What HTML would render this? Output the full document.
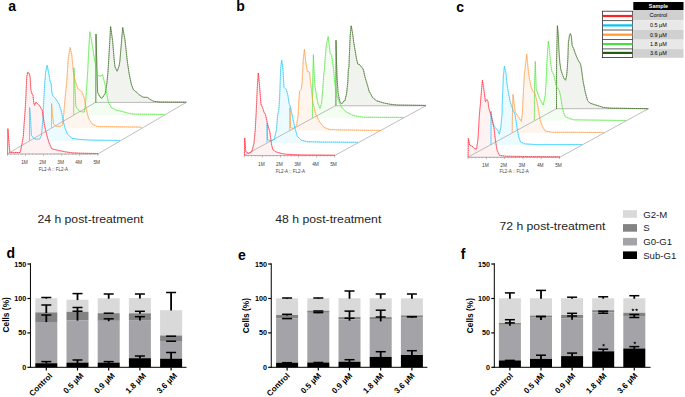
<!DOCTYPE html>
<html><head><meta charset="utf-8"><style>
html,body{margin:0;padding:0;background:#fff;}
svg{display:block;}
text{font-family:"Liberation Sans", sans-serif;}
</style></head><body>
<svg width="685" height="397" viewBox="0 0 685 397">
<path d="M95.80,102.60 L96.00,34.00 L96.80,62.00 L97.60,92.30 L100.00,97.00 L101.90,98.30 L105.20,93.40 L106.80,83.70 L107.90,72.80 L108.60,62.00 L110.60,26.50 L112.50,40.00 L114.40,62.00 L115.00,67.00 L117.10,71.20 L119.00,66.30 L119.80,62.00 L122.70,27.50 L125.00,40.00 L127.40,62.00 L129.00,72.80 L131.20,83.70 L133.30,89.60 L136.60,92.30 L139.60,95.10 L143.10,97.20 L147.40,97.40 L150.20,99.40 L153.60,101.30 L160.40,102.00 L186.30,102.20 L186.30,102.40 L95.80,102.40 Z" fill="#f1f4ee" fill-opacity="1" stroke="none"/>
<path d="M73.70,114.60 L73.90,67.80 L75.20,92.70 L75.90,106.60 L79.40,111.40 L84.20,112.10 L85.20,106.60 L86.30,92.70 L87.70,71.90 L88.70,50.00 L89.80,31.80 L91.50,40.00 L93.50,53.00 L95.40,64.00 L96.50,75.50 L97.40,75.40 L100.80,76.10 L102.50,74.50 L103.50,78.30 L105.70,87.00 L107.80,99.60 L108.50,102.50 L111.30,107.60 L117.00,110.40 L122.60,111.50 L128.30,113.20 L134.00,114.10 L164.40,114.40 L164.40,115.25 L73.70,115.25 Z" fill="#f4fdf1" fill-opacity="1" stroke="none"/>
<path d="M51.50,127.60 L51.60,103.50 L52.40,114.60 L53.60,124.00 L56.00,126.40 L59.50,126.40 L62.50,125.20 L63.70,114.60 L64.90,100.40 L66.00,89.70 L66.60,84.00 L67.00,77.80 L68.20,58.90 L70.10,47.60 L71.80,55.10 L73.30,71.50 L75.20,81.00 L77.90,88.80 L80.80,90.80 L82.60,93.30 L84.40,99.20 L86.20,108.70 L88.50,118.10 L92.10,124.00 L96.80,126.30 L100.00,126.60 L142.00,127.10 L142.00,128.10 L51.50,128.10 Z" fill="#fff5ef" fill-opacity="1" stroke="none"/>
<path d="M29.50,140.60 L29.60,107.60 L30.60,120.20 L31.40,135.30 L34.60,139.10 L39.60,139.10 L41.50,135.30 L42.80,120.20 L43.40,107.60 L44.10,95.00 L44.60,85.00 L45.60,72.70 L47.10,65.20 L48.70,72.70 L50.00,81.00 L51.20,83.80 L51.80,92.10 L53.00,96.20 L56.00,99.00 L58.90,103.90 L61.30,111.00 L63.10,120.50 L64.90,127.60 L67.30,134.00 L72.00,138.30 L79.40,139.40 L92.60,140.10 L120.00,140.40 L120.00,140.95 L29.50,140.95 Z" fill="#ebfbff" fill-opacity="1" stroke="none"/>
<path d="M7.50,153.80 L7.90,128.70 L9.80,152.40 L20.10,152.50 L22.20,143.00 L23.30,136.60 L23.90,127.00 L25.10,111.00 L25.90,97.00 L26.70,77.60 L27.50,72.30 L29.20,73.20 L30.20,77.60 L30.90,90.20 L32.10,94.00 L33.00,95.20 L33.80,102.80 L34.60,105.30 L35.90,102.20 L37.80,104.00 L39.70,105.90 L40.90,108.20 L42.20,110.10 L43.40,117.70 L44.50,125.80 L45.30,129.00 L47.20,136.60 L49.10,142.90 L51.70,148.80 L57.40,150.20 L64.60,151.70 L71.80,152.80 L80.00,153.20 L98.20,153.50 L98.20,153.80 L7.50,153.80 Z" fill="#fef2f2" fill-opacity="1" stroke="none"/>
<path d="M7.50,153.80 L95.50,102.40 L186.20,102.40 L98.20,153.80" fill="none" stroke="#8c8c8c" stroke-opacity="0.8" stroke-width="0.7"/>
<path d="M95.80,102.60 L96.00,34.00 L96.80,62.00 L97.60,92.30 L100.00,97.00 L101.90,98.30 L105.20,93.40 L106.80,83.70 L107.90,72.80 L108.60,62.00 L110.60,26.50 L112.50,40.00 L114.40,62.00 L115.00,67.00 L117.10,71.20 L119.00,66.30 L119.80,62.00 L122.70,27.50 L125.00,40.00 L127.40,62.00 L129.00,72.80 L131.20,83.70 L133.30,89.60 L136.60,92.30 L139.60,95.10 L143.10,97.20 L147.40,97.40 L150.20,99.40 L153.60,101.30 L160.40,102.00 L186.30,102.20" fill="none" stroke="#386a1e" stroke-opacity="0.45" stroke-width="0.9" stroke-linejoin="round"/>
<path d="M95.80,102.60 L96.00,34.00 L96.80,62.00 L97.60,92.30 L100.00,97.00 L101.90,98.30 L105.20,93.40 L106.80,83.70 L107.90,72.80 L108.60,62.00 L110.60,26.50 L112.50,40.00 L114.40,62.00 L115.00,67.00 L117.10,71.20 L119.00,66.30 L119.80,62.00 L122.70,27.50 L125.00,40.00 L127.40,62.00 L129.00,72.80 L131.20,83.70 L133.30,89.60 L136.60,92.30 L139.60,95.10 L143.10,97.20 L147.40,97.40 L150.20,99.40 L153.60,101.30 L160.40,102.00 L186.30,102.20" fill="none" stroke="#386a1e" stroke-opacity="0.75" stroke-width="0.9" stroke-dasharray="1.4 0.6" stroke-linejoin="round"/>
<path d="M73.70,114.60 L73.90,67.80 L75.20,92.70 L75.90,106.60 L79.40,111.40 L84.20,112.10 L85.20,106.60 L86.30,92.70 L87.70,71.90 L88.70,50.00 L89.80,31.80 L91.50,40.00 L93.50,53.00 L95.40,64.00 L96.50,75.50 L97.40,75.40 L100.80,76.10 L102.50,74.50 L103.50,78.30 L105.70,87.00 L107.80,99.60 L108.50,102.50 L111.30,107.60 L117.00,110.40 L122.60,111.50 L128.30,113.20 L134.00,114.10 L164.40,114.40" fill="none" stroke="#4ee83a" stroke-opacity="0.45" stroke-width="0.9" stroke-linejoin="round"/>
<path d="M73.70,114.60 L73.90,67.80 L75.20,92.70 L75.90,106.60 L79.40,111.40 L84.20,112.10 L85.20,106.60 L86.30,92.70 L87.70,71.90 L88.70,50.00 L89.80,31.80 L91.50,40.00 L93.50,53.00 L95.40,64.00 L96.50,75.50 L97.40,75.40 L100.80,76.10 L102.50,74.50 L103.50,78.30 L105.70,87.00 L107.80,99.60 L108.50,102.50 L111.30,107.60 L117.00,110.40 L122.60,111.50 L128.30,113.20 L134.00,114.10 L164.40,114.40" fill="none" stroke="#4ee83a" stroke-opacity="0.75" stroke-width="0.9" stroke-dasharray="1.4 0.6" stroke-linejoin="round"/>
<path d="M51.50,127.60 L51.60,103.50 L52.40,114.60 L53.60,124.00 L56.00,126.40 L59.50,126.40 L62.50,125.20 L63.70,114.60 L64.90,100.40 L66.00,89.70 L66.60,84.00 L67.00,77.80 L68.20,58.90 L70.10,47.60 L71.80,55.10 L73.30,71.50 L75.20,81.00 L77.90,88.80 L80.80,90.80 L82.60,93.30 L84.40,99.20 L86.20,108.70 L88.50,118.10 L92.10,124.00 L96.80,126.30 L100.00,126.60 L142.00,127.10" fill="none" stroke="#ff9a3c" stroke-opacity="0.45" stroke-width="0.9" stroke-linejoin="round"/>
<path d="M51.50,127.60 L51.60,103.50 L52.40,114.60 L53.60,124.00 L56.00,126.40 L59.50,126.40 L62.50,125.20 L63.70,114.60 L64.90,100.40 L66.00,89.70 L66.60,84.00 L67.00,77.80 L68.20,58.90 L70.10,47.60 L71.80,55.10 L73.30,71.50 L75.20,81.00 L77.90,88.80 L80.80,90.80 L82.60,93.30 L84.40,99.20 L86.20,108.70 L88.50,118.10 L92.10,124.00 L96.80,126.30 L100.00,126.60 L142.00,127.10" fill="none" stroke="#ff9a3c" stroke-opacity="0.75" stroke-width="0.9" stroke-dasharray="1.4 0.6" stroke-linejoin="round"/>
<path d="M29.50,140.60 L29.60,107.60 L30.60,120.20 L31.40,135.30 L34.60,139.10 L39.60,139.10 L41.50,135.30 L42.80,120.20 L43.40,107.60 L44.10,95.00 L44.60,85.00 L45.60,72.70 L47.10,65.20 L48.70,72.70 L50.00,81.00 L51.20,83.80 L51.80,92.10 L53.00,96.20 L56.00,99.00 L58.90,103.90 L61.30,111.00 L63.10,120.50 L64.90,127.60 L67.30,134.00 L72.00,138.30 L79.40,139.40 L92.60,140.10 L120.00,140.40" fill="none" stroke="#1ec8ff" stroke-opacity="0.45" stroke-width="0.9" stroke-linejoin="round"/>
<path d="M29.50,140.60 L29.60,107.60 L30.60,120.20 L31.40,135.30 L34.60,139.10 L39.60,139.10 L41.50,135.30 L42.80,120.20 L43.40,107.60 L44.10,95.00 L44.60,85.00 L45.60,72.70 L47.10,65.20 L48.70,72.70 L50.00,81.00 L51.20,83.80 L51.80,92.10 L53.00,96.20 L56.00,99.00 L58.90,103.90 L61.30,111.00 L63.10,120.50 L64.90,127.60 L67.30,134.00 L72.00,138.30 L79.40,139.40 L92.60,140.10 L120.00,140.40" fill="none" stroke="#1ec8ff" stroke-opacity="0.75" stroke-width="0.9" stroke-dasharray="1.4 0.6" stroke-linejoin="round"/>
<path d="M7.50,153.80 L7.90,128.70 L9.80,152.40 L20.10,152.50 L22.20,143.00 L23.30,136.60 L23.90,127.00 L25.10,111.00 L25.90,97.00 L26.70,77.60 L27.50,72.30 L29.20,73.20 L30.20,77.60 L30.90,90.20 L32.10,94.00 L33.00,95.20 L33.80,102.80 L34.60,105.30 L35.90,102.20 L37.80,104.00 L39.70,105.90 L40.90,108.20 L42.20,110.10 L43.40,117.70 L44.50,125.80 L45.30,129.00 L47.20,136.60 L49.10,142.90 L51.70,148.80 L57.40,150.20 L64.60,151.70 L71.80,152.80 L80.00,153.20 L98.20,153.50" fill="none" stroke="#ff2a3a" stroke-opacity="0.45" stroke-width="0.9" stroke-linejoin="round"/>
<path d="M7.50,153.80 L7.90,128.70 L9.80,152.40 L20.10,152.50 L22.20,143.00 L23.30,136.60 L23.90,127.00 L25.10,111.00 L25.90,97.00 L26.70,77.60 L27.50,72.30 L29.20,73.20 L30.20,77.60 L30.90,90.20 L32.10,94.00 L33.00,95.20 L33.80,102.80 L34.60,105.30 L35.90,102.20 L37.80,104.00 L39.70,105.90 L40.90,108.20 L42.20,110.10 L43.40,117.70 L44.50,125.80 L45.30,129.00 L47.20,136.60 L49.10,142.90 L51.70,148.80 L57.40,150.20 L64.60,151.70 L71.80,152.80 L80.00,153.20 L98.20,153.50" fill="none" stroke="#ff2a3a" stroke-opacity="0.75" stroke-width="0.9" stroke-dasharray="1.4 0.6" stroke-linejoin="round"/>
<line x1="7.50" y1="154.00" x2="98.20" y2="154.00" stroke="#8a8a8a" stroke-width="0.7"/>
<line x1="7.50" y1="153.80" x2="7.50" y2="155.80" stroke="#8a8a8a" stroke-width="0.6"/>
<line x1="11.11" y1="153.80" x2="11.11" y2="154.80" stroke="#8a8a8a" stroke-width="0.6"/>
<line x1="14.72" y1="153.80" x2="14.72" y2="154.80" stroke="#8a8a8a" stroke-width="0.6"/>
<line x1="18.33" y1="153.80" x2="18.33" y2="154.80" stroke="#8a8a8a" stroke-width="0.6"/>
<line x1="21.94" y1="153.80" x2="21.94" y2="154.80" stroke="#8a8a8a" stroke-width="0.6"/>
<line x1="25.55" y1="153.80" x2="25.55" y2="155.80" stroke="#8a8a8a" stroke-width="0.6"/>
<line x1="29.16" y1="153.80" x2="29.16" y2="154.80" stroke="#8a8a8a" stroke-width="0.6"/>
<line x1="32.77" y1="153.80" x2="32.77" y2="154.80" stroke="#8a8a8a" stroke-width="0.6"/>
<line x1="36.38" y1="153.80" x2="36.38" y2="154.80" stroke="#8a8a8a" stroke-width="0.6"/>
<line x1="39.99" y1="153.80" x2="39.99" y2="154.80" stroke="#8a8a8a" stroke-width="0.6"/>
<line x1="43.60" y1="153.80" x2="43.60" y2="155.80" stroke="#8a8a8a" stroke-width="0.6"/>
<line x1="47.21" y1="153.80" x2="47.21" y2="154.80" stroke="#8a8a8a" stroke-width="0.6"/>
<line x1="50.82" y1="153.80" x2="50.82" y2="154.80" stroke="#8a8a8a" stroke-width="0.6"/>
<line x1="54.43" y1="153.80" x2="54.43" y2="154.80" stroke="#8a8a8a" stroke-width="0.6"/>
<line x1="58.04" y1="153.80" x2="58.04" y2="154.80" stroke="#8a8a8a" stroke-width="0.6"/>
<line x1="61.65" y1="153.80" x2="61.65" y2="155.80" stroke="#8a8a8a" stroke-width="0.6"/>
<line x1="65.26" y1="153.80" x2="65.26" y2="154.80" stroke="#8a8a8a" stroke-width="0.6"/>
<line x1="68.87" y1="153.80" x2="68.87" y2="154.80" stroke="#8a8a8a" stroke-width="0.6"/>
<line x1="72.48" y1="153.80" x2="72.48" y2="154.80" stroke="#8a8a8a" stroke-width="0.6"/>
<line x1="76.09" y1="153.80" x2="76.09" y2="154.80" stroke="#8a8a8a" stroke-width="0.6"/>
<line x1="79.70" y1="153.80" x2="79.70" y2="155.80" stroke="#8a8a8a" stroke-width="0.6"/>
<line x1="83.31" y1="153.80" x2="83.31" y2="154.80" stroke="#8a8a8a" stroke-width="0.6"/>
<line x1="86.92" y1="153.80" x2="86.92" y2="154.80" stroke="#8a8a8a" stroke-width="0.6"/>
<line x1="90.53" y1="153.80" x2="90.53" y2="154.80" stroke="#8a8a8a" stroke-width="0.6"/>
<line x1="94.14" y1="153.80" x2="94.14" y2="154.80" stroke="#8a8a8a" stroke-width="0.6"/>
<line x1="97.75" y1="153.80" x2="97.75" y2="155.80" stroke="#8a8a8a" stroke-width="0.6"/>
<text x="24.55" y="163.60" font-size="4.8" fill="#444" text-anchor="middle">1M</text>
<text x="42.60" y="163.60" font-size="4.8" fill="#444" text-anchor="middle">2M</text>
<text x="60.65" y="163.60" font-size="4.8" fill="#444" text-anchor="middle">3M</text>
<text x="78.70" y="163.60" font-size="4.8" fill="#444" text-anchor="middle">4M</text>
<text x="96.75" y="163.60" font-size="4.8" fill="#444" text-anchor="middle">5M</text>
<text x="53.50" y="170.60" font-size="4.5" fill="#444" text-anchor="middle">FL2-A :: FL2-A</text>
<path d="M335.90,105.50 L336.00,40.20 L336.50,60.00 L337.00,76.30 L338.10,93.30 L339.80,101.30 L340.50,102.90 L342.10,103.50 L344.00,100.80 L344.90,100.70 L346.60,93.30 L347.80,82.00 L348.30,70.00 L348.90,67.30 L350.20,35.10 L351.20,25.70 L352.50,32.60 L353.80,42.70 L355.30,51.50 L356.50,59.00 L357.80,64.10 L359.70,64.70 L362.20,67.90 L363.50,70.00 L364.80,76.30 L366.50,82.00 L368.20,87.70 L369.00,91.10 L371.00,94.50 L372.40,97.30 L374.40,99.00 L376.60,100.80 L380.00,101.80 L383.50,102.90 L390.50,104.30 L397.40,105.00 L425.80,105.40 L425.80,105.80 L335.90,105.80 Z" fill="#f1f4ee" fill-opacity="1" stroke="none"/>
<path d="M312.40,117.60 L312.60,85.00 L313.40,54.60 L314.00,70.00 L314.80,85.00 L317.80,103.10 L320.00,108.40 L321.60,103.10 L323.10,85.00 L323.70,75.00 L324.20,71.60 L325.40,55.20 L326.50,44.00 L328.20,36.40 L330.10,52.70 L331.60,55.30 L332.60,61.60 L333.60,70.00 L334.70,82.00 L336.40,93.90 L339.20,102.20 L341.90,107.70 L346.10,111.90 L353.00,115.40 L362.70,117.20 L403.70,117.40 L403.70,118.20 L312.40,118.20 Z" fill="#f4fdf1" fill-opacity="1" stroke="none"/>
<path d="M289.80,130.30 L289.90,107.70 L290.60,127.50 L293.00,128.50 L296.60,125.80 L298.10,115.20 L298.90,100.10 L299.60,91.00 L301.20,89.50 L301.90,85.00 L302.10,82.80 L303.20,60.10 L304.40,49.30 L305.90,63.10 L307.40,71.40 L309.70,72.20 L310.20,80.00 L311.00,85.00 L312.50,100.10 L315.50,113.70 L319.30,121.30 L323.80,127.30 L329.90,129.60 L340.00,129.90 L380.80,130.40 L380.80,130.60 L289.80,130.60 Z" fill="#fff5ef" fill-opacity="1" stroke="none"/>
<path d="M267.00,142.30 L267.10,123.40 L267.60,139.50 L270.00,140.80 L272.10,140.60 L274.30,139.40 L276.50,129.20 L277.70,114.60 L278.70,111.00 L279.50,100.00 L279.90,90.30 L280.70,67.70 L281.70,60.10 L282.90,69.20 L284.00,87.30 L286.30,89.60 L287.80,94.90 L289.00,103.00 L290.60,107.70 L292.80,118.20 L295.10,128.80 L297.40,136.40 L301.20,140.20 L307.20,141.70 L320.00,142.00 L357.90,142.30 L357.90,143.00 L267.00,143.00 Z" fill="#ebfbff" fill-opacity="1" stroke="none"/>
<path d="M244.40,155.30 L244.70,138.00 L245.80,151.80 L248.80,153.30 L251.70,151.80 L253.90,143.80 L255.30,129.20 L256.30,110.00 L256.60,102.80 L257.50,83.90 L258.30,73.00 L259.40,83.90 L260.40,96.50 L260.90,104.00 L262.60,107.80 L264.10,112.40 L265.50,114.60 L267.70,124.80 L269.90,132.10 L271.40,143.80 L272.80,149.60 L275.80,151.80 L280.90,153.30 L286.70,154.30 L300.00,154.90 L335.00,155.20 L335.00,155.40 L244.40,155.40 Z" fill="#fef2f2" fill-opacity="1" stroke="none"/>
<path d="M244.40,155.40 L335.20,105.80 L425.80,105.80 L335.00,155.40" fill="none" stroke="#8c8c8c" stroke-opacity="0.8" stroke-width="0.7"/>
<path d="M335.90,105.50 L336.00,40.20 L336.50,60.00 L337.00,76.30 L338.10,93.30 L339.80,101.30 L340.50,102.90 L342.10,103.50 L344.00,100.80 L344.90,100.70 L346.60,93.30 L347.80,82.00 L348.30,70.00 L348.90,67.30 L350.20,35.10 L351.20,25.70 L352.50,32.60 L353.80,42.70 L355.30,51.50 L356.50,59.00 L357.80,64.10 L359.70,64.70 L362.20,67.90 L363.50,70.00 L364.80,76.30 L366.50,82.00 L368.20,87.70 L369.00,91.10 L371.00,94.50 L372.40,97.30 L374.40,99.00 L376.60,100.80 L380.00,101.80 L383.50,102.90 L390.50,104.30 L397.40,105.00 L425.80,105.40" fill="none" stroke="#386a1e" stroke-opacity="0.45" stroke-width="0.9" stroke-linejoin="round"/>
<path d="M335.90,105.50 L336.00,40.20 L336.50,60.00 L337.00,76.30 L338.10,93.30 L339.80,101.30 L340.50,102.90 L342.10,103.50 L344.00,100.80 L344.90,100.70 L346.60,93.30 L347.80,82.00 L348.30,70.00 L348.90,67.30 L350.20,35.10 L351.20,25.70 L352.50,32.60 L353.80,42.70 L355.30,51.50 L356.50,59.00 L357.80,64.10 L359.70,64.70 L362.20,67.90 L363.50,70.00 L364.80,76.30 L366.50,82.00 L368.20,87.70 L369.00,91.10 L371.00,94.50 L372.40,97.30 L374.40,99.00 L376.60,100.80 L380.00,101.80 L383.50,102.90 L390.50,104.30 L397.40,105.00 L425.80,105.40" fill="none" stroke="#386a1e" stroke-opacity="0.75" stroke-width="0.9" stroke-dasharray="1.4 0.6" stroke-linejoin="round"/>
<path d="M312.40,117.60 L312.60,85.00 L313.40,54.60 L314.00,70.00 L314.80,85.00 L317.80,103.10 L320.00,108.40 L321.60,103.10 L323.10,85.00 L323.70,75.00 L324.20,71.60 L325.40,55.20 L326.50,44.00 L328.20,36.40 L330.10,52.70 L331.60,55.30 L332.60,61.60 L333.60,70.00 L334.70,82.00 L336.40,93.90 L339.20,102.20 L341.90,107.70 L346.10,111.90 L353.00,115.40 L362.70,117.20 L403.70,117.40" fill="none" stroke="#4ee83a" stroke-opacity="0.45" stroke-width="0.9" stroke-linejoin="round"/>
<path d="M312.40,117.60 L312.60,85.00 L313.40,54.60 L314.00,70.00 L314.80,85.00 L317.80,103.10 L320.00,108.40 L321.60,103.10 L323.10,85.00 L323.70,75.00 L324.20,71.60 L325.40,55.20 L326.50,44.00 L328.20,36.40 L330.10,52.70 L331.60,55.30 L332.60,61.60 L333.60,70.00 L334.70,82.00 L336.40,93.90 L339.20,102.20 L341.90,107.70 L346.10,111.90 L353.00,115.40 L362.70,117.20 L403.70,117.40" fill="none" stroke="#4ee83a" stroke-opacity="0.75" stroke-width="0.9" stroke-dasharray="1.4 0.6" stroke-linejoin="round"/>
<path d="M289.80,130.30 L289.90,107.70 L290.60,127.50 L293.00,128.50 L296.60,125.80 L298.10,115.20 L298.90,100.10 L299.60,91.00 L301.20,89.50 L301.90,85.00 L302.10,82.80 L303.20,60.10 L304.40,49.30 L305.90,63.10 L307.40,71.40 L309.70,72.20 L310.20,80.00 L311.00,85.00 L312.50,100.10 L315.50,113.70 L319.30,121.30 L323.80,127.30 L329.90,129.60 L340.00,129.90 L380.80,130.40" fill="none" stroke="#ff9a3c" stroke-opacity="0.45" stroke-width="0.9" stroke-linejoin="round"/>
<path d="M289.80,130.30 L289.90,107.70 L290.60,127.50 L293.00,128.50 L296.60,125.80 L298.10,115.20 L298.90,100.10 L299.60,91.00 L301.20,89.50 L301.90,85.00 L302.10,82.80 L303.20,60.10 L304.40,49.30 L305.90,63.10 L307.40,71.40 L309.70,72.20 L310.20,80.00 L311.00,85.00 L312.50,100.10 L315.50,113.70 L319.30,121.30 L323.80,127.30 L329.90,129.60 L340.00,129.90 L380.80,130.40" fill="none" stroke="#ff9a3c" stroke-opacity="0.75" stroke-width="0.9" stroke-dasharray="1.4 0.6" stroke-linejoin="round"/>
<path d="M267.00,142.30 L267.10,123.40 L267.60,139.50 L270.00,140.80 L272.10,140.60 L274.30,139.40 L276.50,129.20 L277.70,114.60 L278.70,111.00 L279.50,100.00 L279.90,90.30 L280.70,67.70 L281.70,60.10 L282.90,69.20 L284.00,87.30 L286.30,89.60 L287.80,94.90 L289.00,103.00 L290.60,107.70 L292.80,118.20 L295.10,128.80 L297.40,136.40 L301.20,140.20 L307.20,141.70 L320.00,142.00 L357.90,142.30" fill="none" stroke="#1ec8ff" stroke-opacity="0.45" stroke-width="0.9" stroke-linejoin="round"/>
<path d="M267.00,142.30 L267.10,123.40 L267.60,139.50 L270.00,140.80 L272.10,140.60 L274.30,139.40 L276.50,129.20 L277.70,114.60 L278.70,111.00 L279.50,100.00 L279.90,90.30 L280.70,67.70 L281.70,60.10 L282.90,69.20 L284.00,87.30 L286.30,89.60 L287.80,94.90 L289.00,103.00 L290.60,107.70 L292.80,118.20 L295.10,128.80 L297.40,136.40 L301.20,140.20 L307.20,141.70 L320.00,142.00 L357.90,142.30" fill="none" stroke="#1ec8ff" stroke-opacity="0.75" stroke-width="0.9" stroke-dasharray="1.4 0.6" stroke-linejoin="round"/>
<path d="M244.40,155.30 L244.70,138.00 L245.80,151.80 L248.80,153.30 L251.70,151.80 L253.90,143.80 L255.30,129.20 L256.30,110.00 L256.60,102.80 L257.50,83.90 L258.30,73.00 L259.40,83.90 L260.40,96.50 L260.90,104.00 L262.60,107.80 L264.10,112.40 L265.50,114.60 L267.70,124.80 L269.90,132.10 L271.40,143.80 L272.80,149.60 L275.80,151.80 L280.90,153.30 L286.70,154.30 L300.00,154.90 L335.00,155.20" fill="none" stroke="#ff2a3a" stroke-opacity="0.45" stroke-width="0.9" stroke-linejoin="round"/>
<path d="M244.40,155.30 L244.70,138.00 L245.80,151.80 L248.80,153.30 L251.70,151.80 L253.90,143.80 L255.30,129.20 L256.30,110.00 L256.60,102.80 L257.50,83.90 L258.30,73.00 L259.40,83.90 L260.40,96.50 L260.90,104.00 L262.60,107.80 L264.10,112.40 L265.50,114.60 L267.70,124.80 L269.90,132.10 L271.40,143.80 L272.80,149.60 L275.80,151.80 L280.90,153.30 L286.70,154.30 L300.00,154.90 L335.00,155.20" fill="none" stroke="#ff2a3a" stroke-opacity="0.75" stroke-width="0.9" stroke-dasharray="1.4 0.6" stroke-linejoin="round"/>
<line x1="244.40" y1="155.60" x2="335.00" y2="155.60" stroke="#8a8a8a" stroke-width="0.7"/>
<line x1="244.40" y1="155.40" x2="244.40" y2="157.40" stroke="#8a8a8a" stroke-width="0.6"/>
<line x1="248.01" y1="155.40" x2="248.01" y2="156.40" stroke="#8a8a8a" stroke-width="0.6"/>
<line x1="251.61" y1="155.40" x2="251.61" y2="156.40" stroke="#8a8a8a" stroke-width="0.6"/>
<line x1="255.22" y1="155.40" x2="255.22" y2="156.40" stroke="#8a8a8a" stroke-width="0.6"/>
<line x1="258.82" y1="155.40" x2="258.82" y2="156.40" stroke="#8a8a8a" stroke-width="0.6"/>
<line x1="262.43" y1="155.40" x2="262.43" y2="157.40" stroke="#8a8a8a" stroke-width="0.6"/>
<line x1="266.04" y1="155.40" x2="266.04" y2="156.40" stroke="#8a8a8a" stroke-width="0.6"/>
<line x1="269.64" y1="155.40" x2="269.64" y2="156.40" stroke="#8a8a8a" stroke-width="0.6"/>
<line x1="273.25" y1="155.40" x2="273.25" y2="156.40" stroke="#8a8a8a" stroke-width="0.6"/>
<line x1="276.85" y1="155.40" x2="276.85" y2="156.40" stroke="#8a8a8a" stroke-width="0.6"/>
<line x1="280.46" y1="155.40" x2="280.46" y2="157.40" stroke="#8a8a8a" stroke-width="0.6"/>
<line x1="284.06" y1="155.40" x2="284.06" y2="156.40" stroke="#8a8a8a" stroke-width="0.6"/>
<line x1="287.67" y1="155.40" x2="287.67" y2="156.40" stroke="#8a8a8a" stroke-width="0.6"/>
<line x1="291.28" y1="155.40" x2="291.28" y2="156.40" stroke="#8a8a8a" stroke-width="0.6"/>
<line x1="294.88" y1="155.40" x2="294.88" y2="156.40" stroke="#8a8a8a" stroke-width="0.6"/>
<line x1="298.49" y1="155.40" x2="298.49" y2="157.40" stroke="#8a8a8a" stroke-width="0.6"/>
<line x1="302.09" y1="155.40" x2="302.09" y2="156.40" stroke="#8a8a8a" stroke-width="0.6"/>
<line x1="305.70" y1="155.40" x2="305.70" y2="156.40" stroke="#8a8a8a" stroke-width="0.6"/>
<line x1="309.31" y1="155.40" x2="309.31" y2="156.40" stroke="#8a8a8a" stroke-width="0.6"/>
<line x1="312.91" y1="155.40" x2="312.91" y2="156.40" stroke="#8a8a8a" stroke-width="0.6"/>
<line x1="316.52" y1="155.40" x2="316.52" y2="157.40" stroke="#8a8a8a" stroke-width="0.6"/>
<line x1="320.12" y1="155.40" x2="320.12" y2="156.40" stroke="#8a8a8a" stroke-width="0.6"/>
<line x1="323.73" y1="155.40" x2="323.73" y2="156.40" stroke="#8a8a8a" stroke-width="0.6"/>
<line x1="327.34" y1="155.40" x2="327.34" y2="156.40" stroke="#8a8a8a" stroke-width="0.6"/>
<line x1="330.94" y1="155.40" x2="330.94" y2="156.40" stroke="#8a8a8a" stroke-width="0.6"/>
<line x1="334.55" y1="155.40" x2="334.55" y2="157.40" stroke="#8a8a8a" stroke-width="0.6"/>
<text x="261.43" y="165.50" font-size="4.8" fill="#444" text-anchor="middle">1M</text>
<text x="279.46" y="165.50" font-size="4.8" fill="#444" text-anchor="middle">2M</text>
<text x="297.49" y="165.50" font-size="4.8" fill="#444" text-anchor="middle">3M</text>
<text x="315.52" y="165.50" font-size="4.8" fill="#444" text-anchor="middle">4M</text>
<text x="333.55" y="165.50" font-size="4.8" fill="#444" text-anchor="middle">5M</text>
<text x="290.40" y="172.90" font-size="4.5" fill="#444" text-anchor="middle">FL2-A :: FL2-A</text>
<path d="M556.50,109.00 L556.60,60.00 L557.40,25.70 L558.30,35.10 L558.90,50.20 L559.80,62.30 L560.90,69.90 L562.40,74.40 L563.90,78.20 L565.50,80.20 L566.60,76.00 L567.30,68.00 L567.80,60.00 L568.40,42.70 L569.50,35.10 L570.40,33.60 L571.40,36.60 L572.20,45.70 L573.70,48.70 L575.20,53.20 L576.70,57.00 L578.50,60.80 L580.50,63.80 L581.60,70.00 L583.10,81.30 L585.40,92.70 L587.60,100.60 L589.90,103.10 L594.40,104.60 L600.00,106.30 L603.00,107.40 L610.00,108.10 L648.20,108.70 L648.20,108.70 L556.50,108.70 Z" fill="#f1f4ee" fill-opacity="1" stroke="none"/>
<path d="M534.40,120.30 L534.50,85.00 L535.30,61.40 L535.90,80.00 L536.20,88.90 L539.60,98.50 L543.20,105.00 L545.20,95.80 L546.20,80.00 L546.80,65.00 L547.60,50.10 L548.40,41.20 L549.50,50.20 L550.50,62.00 L551.80,71.00 L553.90,75.00 L556.20,86.00 L559.30,90.40 L561.00,98.30 L562.20,107.00 L563.50,112.50 L565.40,116.90 L573.40,119.80 L626.00,120.50 L626.00,120.80 L534.40,120.80 Z" fill="#f4fdf1" fill-opacity="1" stroke="none"/>
<path d="M512.20,132.50 L512.50,110.00 L513.00,94.40 L514.00,102.70 L515.40,112.40 L518.20,116.60 L521.30,121.40 L522.30,113.80 L523.00,99.90 L523.70,86.10 L524.40,75.00 L525.50,65.20 L526.70,54.30 L527.50,62.20 L528.50,72.80 L530.50,84.90 L532.70,91.20 L534.80,93.00 L536.90,101.30 L538.90,112.40 L540.30,120.70 L542.40,126.20 L544.90,130.80 L551.50,132.20 L604.00,132.50 L604.00,132.90 L512.20,132.90 Z" fill="#fff5ef" fill-opacity="1" stroke="none"/>
<path d="M491.00,144.80 L491.00,111.30 L492.50,122.70 L494.70,127.20 L497.80,130.20 L499.30,134.00 L500.80,127.20 L502.00,115.10 L502.40,100.00 L503.30,77.30 L504.40,66.00 L505.90,72.80 L507.10,84.90 L508.50,93.00 L509.80,100.00 L510.50,102.70 L512.60,108.90 L514.70,113.80 L515.30,116.00 L516.80,126.00 L518.50,136.00 L520.50,142.00 L525.20,143.90 L536.90,144.60 L582.20,144.60 L582.20,145.00 L491.00,145.00 Z" fill="#ebfbff" fill-opacity="1" stroke="none"/>
<path d="M468.10,157.10 L468.30,138.50 L469.80,145.30 L472.10,146.10 L474.30,148.40 L476.60,149.10 L478.10,137.80 L478.90,122.70 L479.60,112.00 L480.40,104.00 L481.30,92.70 L482.40,80.30 L483.90,89.60 L485.40,101.70 L486.90,99.50 L488.00,101.50 L488.80,108.00 L490.70,114.00 L492.50,121.00 L494.00,128.00 L495.50,140.80 L497.00,149.90 L499.30,155.20 L505.30,156.20 L523.00,156.50 L560.00,156.80 L560.00,157.10 L468.10,157.10 Z" fill="#fef2f2" fill-opacity="1" stroke="none"/>
<path d="M468.10,157.10 L556.50,108.70 L648.40,108.70 L560.00,157.10" fill="none" stroke="#8c8c8c" stroke-opacity="0.8" stroke-width="0.7"/>
<path d="M556.50,109.00 L556.60,60.00 L557.40,25.70 L558.30,35.10 L558.90,50.20 L559.80,62.30 L560.90,69.90 L562.40,74.40 L563.90,78.20 L565.50,80.20 L566.60,76.00 L567.30,68.00 L567.80,60.00 L568.40,42.70 L569.50,35.10 L570.40,33.60 L571.40,36.60 L572.20,45.70 L573.70,48.70 L575.20,53.20 L576.70,57.00 L578.50,60.80 L580.50,63.80 L581.60,70.00 L583.10,81.30 L585.40,92.70 L587.60,100.60 L589.90,103.10 L594.40,104.60 L600.00,106.30 L603.00,107.40 L610.00,108.10 L648.20,108.70" fill="none" stroke="#386a1e" stroke-opacity="0.45" stroke-width="0.9" stroke-linejoin="round"/>
<path d="M556.50,109.00 L556.60,60.00 L557.40,25.70 L558.30,35.10 L558.90,50.20 L559.80,62.30 L560.90,69.90 L562.40,74.40 L563.90,78.20 L565.50,80.20 L566.60,76.00 L567.30,68.00 L567.80,60.00 L568.40,42.70 L569.50,35.10 L570.40,33.60 L571.40,36.60 L572.20,45.70 L573.70,48.70 L575.20,53.20 L576.70,57.00 L578.50,60.80 L580.50,63.80 L581.60,70.00 L583.10,81.30 L585.40,92.70 L587.60,100.60 L589.90,103.10 L594.40,104.60 L600.00,106.30 L603.00,107.40 L610.00,108.10 L648.20,108.70" fill="none" stroke="#386a1e" stroke-opacity="0.75" stroke-width="0.9" stroke-dasharray="1.4 0.6" stroke-linejoin="round"/>
<path d="M534.40,120.30 L534.50,85.00 L535.30,61.40 L535.90,80.00 L536.20,88.90 L539.60,98.50 L543.20,105.00 L545.20,95.80 L546.20,80.00 L546.80,65.00 L547.60,50.10 L548.40,41.20 L549.50,50.20 L550.50,62.00 L551.80,71.00 L553.90,75.00 L556.20,86.00 L559.30,90.40 L561.00,98.30 L562.20,107.00 L563.50,112.50 L565.40,116.90 L573.40,119.80 L626.00,120.50" fill="none" stroke="#4ee83a" stroke-opacity="0.45" stroke-width="0.9" stroke-linejoin="round"/>
<path d="M534.40,120.30 L534.50,85.00 L535.30,61.40 L535.90,80.00 L536.20,88.90 L539.60,98.50 L543.20,105.00 L545.20,95.80 L546.20,80.00 L546.80,65.00 L547.60,50.10 L548.40,41.20 L549.50,50.20 L550.50,62.00 L551.80,71.00 L553.90,75.00 L556.20,86.00 L559.30,90.40 L561.00,98.30 L562.20,107.00 L563.50,112.50 L565.40,116.90 L573.40,119.80 L626.00,120.50" fill="none" stroke="#4ee83a" stroke-opacity="0.75" stroke-width="0.9" stroke-dasharray="1.4 0.6" stroke-linejoin="round"/>
<path d="M512.20,132.50 L512.50,110.00 L513.00,94.40 L514.00,102.70 L515.40,112.40 L518.20,116.60 L521.30,121.40 L522.30,113.80 L523.00,99.90 L523.70,86.10 L524.40,75.00 L525.50,65.20 L526.70,54.30 L527.50,62.20 L528.50,72.80 L530.50,84.90 L532.70,91.20 L534.80,93.00 L536.90,101.30 L538.90,112.40 L540.30,120.70 L542.40,126.20 L544.90,130.80 L551.50,132.20 L604.00,132.50" fill="none" stroke="#ff9a3c" stroke-opacity="0.45" stroke-width="0.9" stroke-linejoin="round"/>
<path d="M512.20,132.50 L512.50,110.00 L513.00,94.40 L514.00,102.70 L515.40,112.40 L518.20,116.60 L521.30,121.40 L522.30,113.80 L523.00,99.90 L523.70,86.10 L524.40,75.00 L525.50,65.20 L526.70,54.30 L527.50,62.20 L528.50,72.80 L530.50,84.90 L532.70,91.20 L534.80,93.00 L536.90,101.30 L538.90,112.40 L540.30,120.70 L542.40,126.20 L544.90,130.80 L551.50,132.20 L604.00,132.50" fill="none" stroke="#ff9a3c" stroke-opacity="0.75" stroke-width="0.9" stroke-dasharray="1.4 0.6" stroke-linejoin="round"/>
<path d="M491.00,144.80 L491.00,111.30 L492.50,122.70 L494.70,127.20 L497.80,130.20 L499.30,134.00 L500.80,127.20 L502.00,115.10 L502.40,100.00 L503.30,77.30 L504.40,66.00 L505.90,72.80 L507.10,84.90 L508.50,93.00 L509.80,100.00 L510.50,102.70 L512.60,108.90 L514.70,113.80 L515.30,116.00 L516.80,126.00 L518.50,136.00 L520.50,142.00 L525.20,143.90 L536.90,144.60 L582.20,144.60" fill="none" stroke="#1ec8ff" stroke-opacity="0.45" stroke-width="0.9" stroke-linejoin="round"/>
<path d="M491.00,144.80 L491.00,111.30 L492.50,122.70 L494.70,127.20 L497.80,130.20 L499.30,134.00 L500.80,127.20 L502.00,115.10 L502.40,100.00 L503.30,77.30 L504.40,66.00 L505.90,72.80 L507.10,84.90 L508.50,93.00 L509.80,100.00 L510.50,102.70 L512.60,108.90 L514.70,113.80 L515.30,116.00 L516.80,126.00 L518.50,136.00 L520.50,142.00 L525.20,143.90 L536.90,144.60 L582.20,144.60" fill="none" stroke="#1ec8ff" stroke-opacity="0.75" stroke-width="0.9" stroke-dasharray="1.4 0.6" stroke-linejoin="round"/>
<path d="M468.10,157.10 L468.30,138.50 L469.80,145.30 L472.10,146.10 L474.30,148.40 L476.60,149.10 L478.10,137.80 L478.90,122.70 L479.60,112.00 L480.40,104.00 L481.30,92.70 L482.40,80.30 L483.90,89.60 L485.40,101.70 L486.90,99.50 L488.00,101.50 L488.80,108.00 L490.70,114.00 L492.50,121.00 L494.00,128.00 L495.50,140.80 L497.00,149.90 L499.30,155.20 L505.30,156.20 L523.00,156.50 L560.00,156.80" fill="none" stroke="#ff2a3a" stroke-opacity="0.45" stroke-width="0.9" stroke-linejoin="round"/>
<path d="M468.10,157.10 L468.30,138.50 L469.80,145.30 L472.10,146.10 L474.30,148.40 L476.60,149.10 L478.10,137.80 L478.90,122.70 L479.60,112.00 L480.40,104.00 L481.30,92.70 L482.40,80.30 L483.90,89.60 L485.40,101.70 L486.90,99.50 L488.00,101.50 L488.80,108.00 L490.70,114.00 L492.50,121.00 L494.00,128.00 L495.50,140.80 L497.00,149.90 L499.30,155.20 L505.30,156.20 L523.00,156.50 L560.00,156.80" fill="none" stroke="#ff2a3a" stroke-opacity="0.75" stroke-width="0.9" stroke-dasharray="1.4 0.6" stroke-linejoin="round"/>
<line x1="468.10" y1="157.30" x2="560.00" y2="157.30" stroke="#8a8a8a" stroke-width="0.7"/>
<line x1="468.10" y1="157.10" x2="468.10" y2="159.10" stroke="#8a8a8a" stroke-width="0.6"/>
<line x1="471.76" y1="157.10" x2="471.76" y2="158.10" stroke="#8a8a8a" stroke-width="0.6"/>
<line x1="475.42" y1="157.10" x2="475.42" y2="158.10" stroke="#8a8a8a" stroke-width="0.6"/>
<line x1="479.07" y1="157.10" x2="479.07" y2="158.10" stroke="#8a8a8a" stroke-width="0.6"/>
<line x1="482.73" y1="157.10" x2="482.73" y2="158.10" stroke="#8a8a8a" stroke-width="0.6"/>
<line x1="486.39" y1="157.10" x2="486.39" y2="159.10" stroke="#8a8a8a" stroke-width="0.6"/>
<line x1="490.05" y1="157.10" x2="490.05" y2="158.10" stroke="#8a8a8a" stroke-width="0.6"/>
<line x1="493.70" y1="157.10" x2="493.70" y2="158.10" stroke="#8a8a8a" stroke-width="0.6"/>
<line x1="497.36" y1="157.10" x2="497.36" y2="158.10" stroke="#8a8a8a" stroke-width="0.6"/>
<line x1="501.02" y1="157.10" x2="501.02" y2="158.10" stroke="#8a8a8a" stroke-width="0.6"/>
<line x1="504.68" y1="157.10" x2="504.68" y2="159.10" stroke="#8a8a8a" stroke-width="0.6"/>
<line x1="508.33" y1="157.10" x2="508.33" y2="158.10" stroke="#8a8a8a" stroke-width="0.6"/>
<line x1="511.99" y1="157.10" x2="511.99" y2="158.10" stroke="#8a8a8a" stroke-width="0.6"/>
<line x1="515.65" y1="157.10" x2="515.65" y2="158.10" stroke="#8a8a8a" stroke-width="0.6"/>
<line x1="519.31" y1="157.10" x2="519.31" y2="158.10" stroke="#8a8a8a" stroke-width="0.6"/>
<line x1="522.96" y1="157.10" x2="522.96" y2="159.10" stroke="#8a8a8a" stroke-width="0.6"/>
<line x1="526.62" y1="157.10" x2="526.62" y2="158.10" stroke="#8a8a8a" stroke-width="0.6"/>
<line x1="530.28" y1="157.10" x2="530.28" y2="158.10" stroke="#8a8a8a" stroke-width="0.6"/>
<line x1="533.94" y1="157.10" x2="533.94" y2="158.10" stroke="#8a8a8a" stroke-width="0.6"/>
<line x1="537.59" y1="157.10" x2="537.59" y2="158.10" stroke="#8a8a8a" stroke-width="0.6"/>
<line x1="541.25" y1="157.10" x2="541.25" y2="159.10" stroke="#8a8a8a" stroke-width="0.6"/>
<line x1="544.91" y1="157.10" x2="544.91" y2="158.10" stroke="#8a8a8a" stroke-width="0.6"/>
<line x1="548.57" y1="157.10" x2="548.57" y2="158.10" stroke="#8a8a8a" stroke-width="0.6"/>
<line x1="552.23" y1="157.10" x2="552.23" y2="158.10" stroke="#8a8a8a" stroke-width="0.6"/>
<line x1="555.88" y1="157.10" x2="555.88" y2="158.10" stroke="#8a8a8a" stroke-width="0.6"/>
<line x1="559.54" y1="157.10" x2="559.54" y2="159.10" stroke="#8a8a8a" stroke-width="0.6"/>
<text x="485.39" y="166.80" font-size="4.8" fill="#444" text-anchor="middle">1M</text>
<text x="503.68" y="166.80" font-size="4.8" fill="#444" text-anchor="middle">2M</text>
<text x="521.96" y="166.80" font-size="4.8" fill="#444" text-anchor="middle">3M</text>
<text x="540.25" y="166.80" font-size="4.8" fill="#444" text-anchor="middle">4M</text>
<text x="558.54" y="166.80" font-size="4.8" fill="#444" text-anchor="middle">5M</text>
<text x="514.10" y="173.20" font-size="4.5" fill="#444" text-anchor="middle">FL2-A :: FL2-A</text>
<rect x="35.3" y="298.3" width="22.0" height="14.1" fill="#d9d9d9"/>
<rect x="35.3" y="312.4" width="22.0" height="9.6" fill="#838383"/>
<rect x="35.3" y="322.0" width="22.0" height="41.2" fill="#a4a3a8"/>
<rect x="35.3" y="363.2" width="22.0" height="4.1" fill="#000000"/>
<rect x="66.5" y="299.7" width="22.0" height="12.1" fill="#d9d9d9"/>
<rect x="66.5" y="311.8" width="22.0" height="8.4" fill="#838383"/>
<rect x="66.5" y="320.2" width="22.0" height="42.4" fill="#a4a3a8"/>
<rect x="66.5" y="362.6" width="22.0" height="4.7" fill="#000000"/>
<rect x="97.7" y="298.3" width="22.0" height="14.9" fill="#d9d9d9"/>
<rect x="97.7" y="313.2" width="22.0" height="7.6" fill="#838383"/>
<rect x="97.7" y="320.8" width="22.0" height="41.8" fill="#a4a3a8"/>
<rect x="97.7" y="362.6" width="22.0" height="4.7" fill="#000000"/>
<rect x="128.9" y="298.0" width="22.0" height="15.3" fill="#d9d9d9"/>
<rect x="128.9" y="313.3" width="22.0" height="6.8" fill="#838383"/>
<rect x="128.9" y="320.1" width="22.0" height="38.1" fill="#a4a3a8"/>
<rect x="128.9" y="358.2" width="22.0" height="9.1" fill="#000000"/>
<rect x="160.1" y="310.2" width="22.0" height="25.3" fill="#d9d9d9"/>
<rect x="160.1" y="335.5" width="22.0" height="5.5" fill="#838383"/>
<rect x="160.1" y="341.0" width="22.0" height="17.7" fill="#a4a3a8"/>
<rect x="160.1" y="358.7" width="22.0" height="8.6" fill="#000000"/>
<line x1="46.3" y1="298.7" x2="46.3" y2="297.5" stroke="#000" stroke-width="1.8"/>
<line x1="41.3" y1="297.5" x2="51.3" y2="297.5" stroke="#000" stroke-width="1.5"/>
<line x1="46.3" y1="313.0" x2="46.3" y2="305.0" stroke="#000" stroke-width="1.8"/>
<line x1="41.3" y1="305.0" x2="51.3" y2="305.0" stroke="#000" stroke-width="1.5"/>
<line x1="46.3" y1="322.1" x2="46.3" y2="315.0" stroke="#000" stroke-width="1.8"/>
<line x1="41.3" y1="315.0" x2="51.3" y2="315.0" stroke="#000" stroke-width="1.5"/>
<line x1="46.3" y1="363.4" x2="46.3" y2="361.6" stroke="#000" stroke-width="1.8"/>
<line x1="41.3" y1="361.6" x2="51.3" y2="361.6" stroke="#000" stroke-width="1.5"/>
<line x1="77.5" y1="300.1" x2="77.5" y2="293.6" stroke="#000" stroke-width="1.8"/>
<line x1="72.5" y1="293.6" x2="82.5" y2="293.6" stroke="#000" stroke-width="1.5"/>
<line x1="77.5" y1="312.2" x2="77.5" y2="307.5" stroke="#000" stroke-width="1.8"/>
<line x1="72.5" y1="307.5" x2="82.5" y2="307.5" stroke="#000" stroke-width="1.5"/>
<line x1="77.5" y1="320.6" x2="77.5" y2="311.2" stroke="#000" stroke-width="1.8"/>
<line x1="72.5" y1="311.2" x2="82.5" y2="311.2" stroke="#000" stroke-width="1.5"/>
<line x1="77.5" y1="363.0" x2="77.5" y2="360.0" stroke="#000" stroke-width="1.8"/>
<line x1="72.5" y1="360.0" x2="82.5" y2="360.0" stroke="#000" stroke-width="1.5"/>
<line x1="108.7" y1="298.7" x2="108.7" y2="294.0" stroke="#000" stroke-width="1.8"/>
<line x1="103.7" y1="294.0" x2="113.7" y2="294.0" stroke="#000" stroke-width="1.5"/>
<line x1="108.7" y1="313.6" x2="108.7" y2="313.2" stroke="#000" stroke-width="1.8"/>
<line x1="103.7" y1="313.2" x2="113.7" y2="313.2" stroke="#000" stroke-width="1.5"/>
<line x1="108.7" y1="321.2" x2="108.7" y2="318.8" stroke="#000" stroke-width="1.8"/>
<line x1="103.7" y1="318.8" x2="113.7" y2="318.8" stroke="#000" stroke-width="1.5"/>
<line x1="108.7" y1="363.0" x2="108.7" y2="361.6" stroke="#000" stroke-width="1.8"/>
<line x1="103.7" y1="361.6" x2="113.7" y2="361.6" stroke="#000" stroke-width="1.5"/>
<line x1="139.9" y1="298.4" x2="139.9" y2="294.0" stroke="#000" stroke-width="1.8"/>
<line x1="134.9" y1="294.0" x2="144.9" y2="294.0" stroke="#000" stroke-width="1.5"/>
<line x1="139.9" y1="313.7" x2="139.9" y2="311.3" stroke="#000" stroke-width="1.8"/>
<line x1="134.9" y1="311.3" x2="144.9" y2="311.3" stroke="#000" stroke-width="1.5"/>
<line x1="139.9" y1="320.5" x2="139.9" y2="316.7" stroke="#000" stroke-width="1.8"/>
<line x1="134.9" y1="316.7" x2="144.9" y2="316.7" stroke="#000" stroke-width="1.5"/>
<line x1="139.9" y1="358.6" x2="139.9" y2="356.0" stroke="#000" stroke-width="1.8"/>
<line x1="134.9" y1="356.0" x2="144.9" y2="356.0" stroke="#000" stroke-width="1.5"/>
<line x1="171.1" y1="310.6" x2="171.1" y2="292.5" stroke="#000" stroke-width="1.8"/>
<line x1="166.1" y1="292.5" x2="176.1" y2="292.5" stroke="#000" stroke-width="1.5"/>
<line x1="171.1" y1="336.4" x2="171.1" y2="336.2" stroke="#000" stroke-width="1.8"/>
<line x1="166.1" y1="336.2" x2="176.1" y2="336.2" stroke="#000" stroke-width="1.5"/>
<line x1="171.1" y1="341.4" x2="171.1" y2="341.2" stroke="#000" stroke-width="1.8"/>
<line x1="166.1" y1="341.2" x2="176.1" y2="341.2" stroke="#000" stroke-width="1.5"/>
<line x1="171.1" y1="359.1" x2="171.1" y2="352.5" stroke="#000" stroke-width="1.8"/>
<line x1="166.1" y1="352.5" x2="176.1" y2="352.5" stroke="#000" stroke-width="1.5"/>
<line x1="30.45" y1="263.3" x2="30.45" y2="367.8" stroke="#000" stroke-width="1"/>
<line x1="29.95" y1="367.3" x2="186.5" y2="367.3" stroke="#000" stroke-width="1"/>
<line x1="27.4" y1="264.0" x2="30.4" y2="264.0" stroke="#000" stroke-width="1.2"/>
<text x="26.2" y="266.5" font-size="7.2" font-weight="bold" text-anchor="end">150</text>
<line x1="27.4" y1="298.5" x2="30.4" y2="298.5" stroke="#000" stroke-width="1.2"/>
<text x="26.2" y="301.0" font-size="7.2" font-weight="bold" text-anchor="end">100</text>
<line x1="27.4" y1="332.9" x2="30.4" y2="332.9" stroke="#000" stroke-width="1.2"/>
<text x="26.2" y="335.4" font-size="7.2" font-weight="bold" text-anchor="end">50</text>
<line x1="27.4" y1="367.3" x2="30.4" y2="367.3" stroke="#000" stroke-width="1.2"/>
<text x="26.2" y="369.8" font-size="7.2" font-weight="bold" text-anchor="end">0</text>
<line x1="46.3" y1="367.4" x2="46.3" y2="370.5" stroke="#000" stroke-width="1.2"/>
<text transform="translate(52.8,376.3) rotate(-45)" font-size="8.1" font-weight="bold" text-anchor="end">Control</text>
<line x1="77.5" y1="367.4" x2="77.5" y2="370.5" stroke="#000" stroke-width="1.2"/>
<text transform="translate(84.0,376.3) rotate(-45)" font-size="8.1" font-weight="bold" text-anchor="end">0.5 µM</text>
<line x1="108.7" y1="367.4" x2="108.7" y2="370.5" stroke="#000" stroke-width="1.2"/>
<text transform="translate(115.2,376.3) rotate(-45)" font-size="8.1" font-weight="bold" text-anchor="end">0.9 µM</text>
<line x1="139.9" y1="367.4" x2="139.9" y2="370.5" stroke="#000" stroke-width="1.2"/>
<text transform="translate(146.4,376.3) rotate(-45)" font-size="8.1" font-weight="bold" text-anchor="end">1.8 µM</text>
<line x1="171.1" y1="367.4" x2="171.1" y2="370.5" stroke="#000" stroke-width="1.2"/>
<text transform="translate(177.6,376.3) rotate(-45)" font-size="8.1" font-weight="bold" text-anchor="end">3.6 µM</text>
<text transform="translate(9.3,314.8) rotate(-90)" font-size="8.4" font-weight="bold" text-anchor="middle">Cells (%)</text>
<text x="6.6" y="257.8" font-size="14" font-weight="bold">d</text>
<rect x="276.1" y="298.3" width="22.0" height="16.7" fill="#d9d9d9"/>
<rect x="276.1" y="315.0" width="22.0" height="3.2" fill="#838383"/>
<rect x="276.1" y="318.2" width="22.0" height="44.5" fill="#a4a3a8"/>
<rect x="276.1" y="362.7" width="22.0" height="4.6" fill="#000000"/>
<rect x="307.3" y="298.3" width="22.0" height="12.4" fill="#d9d9d9"/>
<rect x="307.3" y="310.7" width="22.0" height="2.1" fill="#838383"/>
<rect x="307.3" y="312.8" width="22.0" height="49.7" fill="#a4a3a8"/>
<rect x="307.3" y="362.5" width="22.0" height="4.8" fill="#000000"/>
<rect x="338.5" y="298.3" width="22.0" height="18.8" fill="#d9d9d9"/>
<rect x="338.5" y="317.1" width="22.0" height="2.2" fill="#838383"/>
<rect x="338.5" y="319.3" width="22.0" height="42.4" fill="#a4a3a8"/>
<rect x="338.5" y="361.7" width="22.0" height="5.6" fill="#000000"/>
<rect x="369.7" y="298.3" width="22.0" height="18.8" fill="#d9d9d9"/>
<rect x="369.7" y="317.1" width="22.0" height="2.6" fill="#838383"/>
<rect x="369.7" y="319.7" width="22.0" height="37.2" fill="#a4a3a8"/>
<rect x="369.7" y="356.9" width="22.0" height="10.4" fill="#000000"/>
<rect x="400.9" y="298.3" width="22.0" height="17.1" fill="#d9d9d9"/>
<rect x="400.9" y="315.4" width="22.0" height="1.7" fill="#838383"/>
<rect x="400.9" y="317.1" width="22.0" height="37.9" fill="#a4a3a8"/>
<rect x="400.9" y="355.0" width="22.0" height="12.3" fill="#000000"/>
<line x1="287.1" y1="298.7" x2="287.1" y2="298.0" stroke="#000" stroke-width="1.8"/>
<line x1="282.1" y1="298.0" x2="292.1" y2="298.0" stroke="#000" stroke-width="1.5"/>
<line x1="287.1" y1="315.4" x2="287.1" y2="314.3" stroke="#000" stroke-width="1.8"/>
<line x1="282.1" y1="314.3" x2="292.1" y2="314.3" stroke="#000" stroke-width="1.5"/>
<line x1="287.1" y1="318.6" x2="287.1" y2="318.6" stroke="#000" stroke-width="1.8"/>
<line x1="282.1" y1="318.6" x2="292.1" y2="318.6" stroke="#000" stroke-width="1.5"/>
<line x1="287.1" y1="363.1" x2="287.1" y2="362.7" stroke="#000" stroke-width="1.8"/>
<line x1="282.1" y1="362.7" x2="292.1" y2="362.7" stroke="#000" stroke-width="1.5"/>
<line x1="318.3" y1="298.7" x2="318.3" y2="298.0" stroke="#000" stroke-width="1.8"/>
<line x1="313.3" y1="298.0" x2="323.3" y2="298.0" stroke="#000" stroke-width="1.5"/>
<line x1="318.3" y1="311.1" x2="318.3" y2="311.0" stroke="#000" stroke-width="1.8"/>
<line x1="313.3" y1="311.0" x2="323.3" y2="311.0" stroke="#000" stroke-width="1.5"/>
<line x1="318.3" y1="313.2" x2="318.3" y2="312.6" stroke="#000" stroke-width="1.8"/>
<line x1="313.3" y1="312.6" x2="323.3" y2="312.6" stroke="#000" stroke-width="1.5"/>
<line x1="318.3" y1="362.9" x2="318.3" y2="362.5" stroke="#000" stroke-width="1.8"/>
<line x1="313.3" y1="362.5" x2="323.3" y2="362.5" stroke="#000" stroke-width="1.5"/>
<line x1="349.5" y1="298.7" x2="349.5" y2="291.0" stroke="#000" stroke-width="1.8"/>
<line x1="344.5" y1="291.0" x2="354.5" y2="291.0" stroke="#000" stroke-width="1.5"/>
<line x1="349.5" y1="317.5" x2="349.5" y2="311.1" stroke="#000" stroke-width="1.8"/>
<line x1="344.5" y1="311.1" x2="354.5" y2="311.1" stroke="#000" stroke-width="1.5"/>
<line x1="349.5" y1="320.7" x2="349.5" y2="318.2" stroke="#000" stroke-width="1.8"/>
<line x1="344.5" y1="318.2" x2="354.5" y2="318.2" stroke="#000" stroke-width="1.5"/>
<line x1="349.5" y1="362.1" x2="349.5" y2="359.7" stroke="#000" stroke-width="1.8"/>
<line x1="344.5" y1="359.7" x2="354.5" y2="359.7" stroke="#000" stroke-width="1.5"/>
<line x1="380.7" y1="298.7" x2="380.7" y2="294.0" stroke="#000" stroke-width="1.8"/>
<line x1="375.7" y1="294.0" x2="385.7" y2="294.0" stroke="#000" stroke-width="1.5"/>
<line x1="380.7" y1="317.5" x2="380.7" y2="310.2" stroke="#000" stroke-width="1.8"/>
<line x1="375.7" y1="310.2" x2="385.7" y2="310.2" stroke="#000" stroke-width="1.5"/>
<line x1="380.7" y1="321.4" x2="380.7" y2="317.0" stroke="#000" stroke-width="1.8"/>
<line x1="375.7" y1="317.0" x2="385.7" y2="317.0" stroke="#000" stroke-width="1.5"/>
<line x1="380.7" y1="357.3" x2="380.7" y2="351.7" stroke="#000" stroke-width="1.8"/>
<line x1="375.7" y1="351.7" x2="385.7" y2="351.7" stroke="#000" stroke-width="1.5"/>
<line x1="411.9" y1="298.7" x2="411.9" y2="294.0" stroke="#000" stroke-width="1.8"/>
<line x1="406.9" y1="294.0" x2="416.9" y2="294.0" stroke="#000" stroke-width="1.5"/>
<line x1="411.9" y1="317.5" x2="411.9" y2="316.7" stroke="#000" stroke-width="1.8"/>
<line x1="406.9" y1="316.7" x2="416.9" y2="316.7" stroke="#000" stroke-width="1.5"/>
<line x1="411.9" y1="317.5" x2="411.9" y2="316.7" stroke="#000" stroke-width="1.8"/>
<line x1="406.9" y1="316.7" x2="416.9" y2="316.7" stroke="#000" stroke-width="1.5"/>
<line x1="411.9" y1="355.4" x2="411.9" y2="350.7" stroke="#000" stroke-width="1.8"/>
<line x1="406.9" y1="350.7" x2="416.9" y2="350.7" stroke="#000" stroke-width="1.5"/>
<line x1="271.25" y1="263.3" x2="271.25" y2="367.8" stroke="#000" stroke-width="1"/>
<line x1="270.75" y1="367.3" x2="427.4" y2="367.3" stroke="#000" stroke-width="1"/>
<line x1="268.2" y1="264.0" x2="271.2" y2="264.0" stroke="#000" stroke-width="1.2"/>
<text x="267.1" y="266.5" font-size="7.2" font-weight="bold" text-anchor="end">150</text>
<line x1="268.2" y1="298.5" x2="271.2" y2="298.5" stroke="#000" stroke-width="1.2"/>
<text x="267.1" y="301.0" font-size="7.2" font-weight="bold" text-anchor="end">100</text>
<line x1="268.2" y1="332.9" x2="271.2" y2="332.9" stroke="#000" stroke-width="1.2"/>
<text x="267.1" y="335.4" font-size="7.2" font-weight="bold" text-anchor="end">50</text>
<line x1="268.2" y1="367.3" x2="271.2" y2="367.3" stroke="#000" stroke-width="1.2"/>
<text x="267.1" y="369.8" font-size="7.2" font-weight="bold" text-anchor="end">0</text>
<line x1="287.1" y1="367.4" x2="287.1" y2="370.5" stroke="#000" stroke-width="1.2"/>
<text transform="translate(290.3,376.3) rotate(-45)" font-size="8.1" font-weight="bold" text-anchor="end">Control</text>
<line x1="318.3" y1="367.4" x2="318.3" y2="370.5" stroke="#000" stroke-width="1.2"/>
<text transform="translate(321.5,376.3) rotate(-45)" font-size="8.1" font-weight="bold" text-anchor="end">0.5 µM</text>
<line x1="349.5" y1="367.4" x2="349.5" y2="370.5" stroke="#000" stroke-width="1.2"/>
<text transform="translate(352.7,376.3) rotate(-45)" font-size="8.1" font-weight="bold" text-anchor="end">0.9 µM</text>
<line x1="380.7" y1="367.4" x2="380.7" y2="370.5" stroke="#000" stroke-width="1.2"/>
<text transform="translate(383.9,376.3) rotate(-45)" font-size="8.1" font-weight="bold" text-anchor="end">1.8 µM</text>
<line x1="411.9" y1="367.4" x2="411.9" y2="370.5" stroke="#000" stroke-width="1.2"/>
<text transform="translate(415.1,376.3) rotate(-45)" font-size="8.1" font-weight="bold" text-anchor="end">3.6 µM</text>
<text transform="translate(248.9,315.6) rotate(-90)" font-size="8.4" font-weight="bold" text-anchor="middle">Cells (%)</text>
<text x="238.1" y="260.1" font-size="14" font-weight="bold">e</text>
<rect x="498.9" y="298.3" width="22.0" height="24.7" fill="#d9d9d9"/>
<rect x="498.9" y="323.0" width="22.0" height="1.8" fill="#838383"/>
<rect x="498.9" y="324.8" width="22.0" height="35.6" fill="#a4a3a8"/>
<rect x="498.9" y="360.4" width="22.0" height="6.9" fill="#000000"/>
<rect x="530.0" y="298.3" width="22.0" height="17.3" fill="#d9d9d9"/>
<rect x="530.0" y="315.6" width="22.0" height="1.5" fill="#838383"/>
<rect x="530.0" y="317.1" width="22.0" height="41.8" fill="#a4a3a8"/>
<rect x="530.0" y="358.9" width="22.0" height="8.4" fill="#000000"/>
<rect x="561.1" y="298.3" width="22.0" height="16.7" fill="#d9d9d9"/>
<rect x="561.1" y="315.0" width="22.0" height="3.2" fill="#838383"/>
<rect x="561.1" y="318.2" width="22.0" height="37.9" fill="#a4a3a8"/>
<rect x="561.1" y="356.1" width="22.0" height="11.2" fill="#000000"/>
<rect x="592.2" y="298.3" width="22.0" height="11.9" fill="#d9d9d9"/>
<rect x="592.2" y="310.2" width="22.0" height="2.2" fill="#838383"/>
<rect x="592.2" y="312.4" width="22.0" height="38.9" fill="#a4a3a8"/>
<rect x="592.2" y="351.3" width="22.0" height="16.0" fill="#000000"/>
<rect x="623.3" y="298.3" width="22.0" height="14.5" fill="#d9d9d9"/>
<rect x="623.3" y="312.8" width="22.0" height="3.9" fill="#838383"/>
<rect x="623.3" y="316.7" width="22.0" height="31.8" fill="#a4a3a8"/>
<rect x="623.3" y="348.5" width="22.0" height="18.8" fill="#000000"/>
<line x1="509.9" y1="298.7" x2="509.9" y2="292.9" stroke="#000" stroke-width="1.8"/>
<line x1="504.9" y1="292.9" x2="514.9" y2="292.9" stroke="#000" stroke-width="1.5"/>
<line x1="509.9" y1="322.9" x2="509.9" y2="319.7" stroke="#000" stroke-width="1.8"/>
<line x1="504.9" y1="319.7" x2="514.9" y2="319.7" stroke="#000" stroke-width="1.5"/>
<line x1="509.9" y1="325.7" x2="509.9" y2="322.9" stroke="#000" stroke-width="1.8"/>
<line x1="504.9" y1="322.9" x2="514.9" y2="322.9" stroke="#000" stroke-width="1.5"/>
<line x1="509.9" y1="360.8" x2="509.9" y2="360.4" stroke="#000" stroke-width="1.8"/>
<line x1="504.9" y1="360.4" x2="514.9" y2="360.4" stroke="#000" stroke-width="1.5"/>
<line x1="541.0" y1="298.7" x2="541.0" y2="290.4" stroke="#000" stroke-width="1.8"/>
<line x1="536.0" y1="290.4" x2="546.0" y2="290.4" stroke="#000" stroke-width="1.5"/>
<line x1="541.0" y1="320.1" x2="541.0" y2="316.5" stroke="#000" stroke-width="1.8"/>
<line x1="536.0" y1="316.5" x2="546.0" y2="316.5" stroke="#000" stroke-width="1.5"/>
<line x1="541.0" y1="320.1" x2="541.0" y2="316.5" stroke="#000" stroke-width="1.8"/>
<line x1="536.0" y1="316.5" x2="546.0" y2="316.5" stroke="#000" stroke-width="1.5"/>
<line x1="541.0" y1="359.3" x2="541.0" y2="355.2" stroke="#000" stroke-width="1.8"/>
<line x1="536.0" y1="355.2" x2="546.0" y2="355.2" stroke="#000" stroke-width="1.5"/>
<line x1="572.1" y1="298.7" x2="572.1" y2="297.2" stroke="#000" stroke-width="1.8"/>
<line x1="567.1" y1="297.2" x2="577.1" y2="297.2" stroke="#000" stroke-width="1.5"/>
<line x1="572.1" y1="315.4" x2="572.1" y2="313.3" stroke="#000" stroke-width="1.8"/>
<line x1="567.1" y1="313.3" x2="577.1" y2="313.3" stroke="#000" stroke-width="1.5"/>
<line x1="572.1" y1="319.7" x2="572.1" y2="316.0" stroke="#000" stroke-width="1.8"/>
<line x1="567.1" y1="316.0" x2="577.1" y2="316.0" stroke="#000" stroke-width="1.5"/>
<line x1="572.1" y1="356.5" x2="572.1" y2="353.1" stroke="#000" stroke-width="1.8"/>
<line x1="567.1" y1="353.1" x2="577.1" y2="353.1" stroke="#000" stroke-width="1.5"/>
<line x1="603.2" y1="298.7" x2="603.2" y2="296.8" stroke="#000" stroke-width="1.8"/>
<line x1="598.2" y1="296.8" x2="608.2" y2="296.8" stroke="#000" stroke-width="1.5"/>
<line x1="603.2" y1="312.8" x2="603.2" y2="311.2" stroke="#000" stroke-width="1.8"/>
<line x1="598.2" y1="311.2" x2="608.2" y2="311.2" stroke="#000" stroke-width="1.5"/>
<line x1="603.2" y1="313.6" x2="603.2" y2="313.2" stroke="#000" stroke-width="1.8"/>
<line x1="598.2" y1="313.2" x2="608.2" y2="313.2" stroke="#000" stroke-width="1.5"/>
<line x1="603.2" y1="351.7" x2="603.2" y2="349.2" stroke="#000" stroke-width="1.8"/>
<line x1="598.2" y1="349.2" x2="608.2" y2="349.2" stroke="#000" stroke-width="1.5"/>
<line x1="634.3" y1="298.7" x2="634.3" y2="295.7" stroke="#000" stroke-width="1.8"/>
<line x1="629.3" y1="295.7" x2="639.3" y2="295.7" stroke="#000" stroke-width="1.5"/>
<line x1="634.3" y1="317.9" x2="634.3" y2="314.5" stroke="#000" stroke-width="1.8"/>
<line x1="629.3" y1="314.5" x2="639.3" y2="314.5" stroke="#000" stroke-width="1.5"/>
<line x1="634.3" y1="317.9" x2="634.3" y2="317.5" stroke="#000" stroke-width="1.8"/>
<line x1="629.3" y1="317.5" x2="639.3" y2="317.5" stroke="#000" stroke-width="1.5"/>
<line x1="634.3" y1="348.9" x2="634.3" y2="346.6" stroke="#000" stroke-width="1.8"/>
<line x1="629.3" y1="346.6" x2="639.3" y2="346.6" stroke="#000" stroke-width="1.5"/>
<line x1="494.30" y1="263.3" x2="494.30" y2="367.8" stroke="#000" stroke-width="1"/>
<line x1="493.80" y1="367.3" x2="650.6" y2="367.3" stroke="#000" stroke-width="1"/>
<line x1="491.3" y1="264.0" x2="494.3" y2="264.0" stroke="#000" stroke-width="1.2"/>
<text x="490.1" y="266.5" font-size="7.2" font-weight="bold" text-anchor="end">150</text>
<line x1="491.3" y1="298.5" x2="494.3" y2="298.5" stroke="#000" stroke-width="1.2"/>
<text x="490.1" y="301.0" font-size="7.2" font-weight="bold" text-anchor="end">100</text>
<line x1="491.3" y1="332.9" x2="494.3" y2="332.9" stroke="#000" stroke-width="1.2"/>
<text x="490.1" y="335.4" font-size="7.2" font-weight="bold" text-anchor="end">50</text>
<line x1="491.3" y1="367.3" x2="494.3" y2="367.3" stroke="#000" stroke-width="1.2"/>
<text x="490.1" y="369.8" font-size="7.2" font-weight="bold" text-anchor="end">0</text>
<line x1="509.9" y1="367.4" x2="509.9" y2="370.5" stroke="#000" stroke-width="1.2"/>
<text transform="translate(513.6,376.3) rotate(-45)" font-size="8.1" font-weight="bold" text-anchor="end">Control</text>
<line x1="541.0" y1="367.4" x2="541.0" y2="370.5" stroke="#000" stroke-width="1.2"/>
<text transform="translate(544.7,376.3) rotate(-45)" font-size="8.1" font-weight="bold" text-anchor="end">0.5 µM</text>
<line x1="572.1" y1="367.4" x2="572.1" y2="370.5" stroke="#000" stroke-width="1.2"/>
<text transform="translate(575.8,376.3) rotate(-45)" font-size="8.1" font-weight="bold" text-anchor="end">0.9 µM</text>
<line x1="603.2" y1="367.4" x2="603.2" y2="370.5" stroke="#000" stroke-width="1.2"/>
<text transform="translate(606.9,376.3) rotate(-45)" font-size="8.1" font-weight="bold" text-anchor="end">1.8 µM</text>
<line x1="634.3" y1="367.4" x2="634.3" y2="370.5" stroke="#000" stroke-width="1.2"/>
<text transform="translate(638.0,376.3) rotate(-45)" font-size="8.1" font-weight="bold" text-anchor="end">3.6 µM</text>
<text transform="translate(472.6,315.6) rotate(-90)" font-size="8.4" font-weight="bold" text-anchor="middle">Cells (%)</text>
<text x="460.7" y="258.7" font-size="14" font-weight="bold">f</text>
<polygon points="603.60,343.45 604.04,344.59 605.26,344.66 604.31,345.43 604.63,346.62 603.60,345.95 602.57,346.62 602.89,345.43 601.94,344.66 603.16,344.59" fill="#111"/>
<polygon points="634.80,341.15 635.24,342.29 636.46,342.36 635.51,343.13 635.83,344.32 634.80,343.65 633.77,344.32 634.09,343.13 633.14,342.36 634.36,342.29" fill="#111"/>
<polygon points="632.90,308.15 633.34,309.29 634.56,309.36 633.61,310.13 633.93,311.32 632.90,310.65 631.87,311.32 632.19,310.13 631.24,309.36 632.46,309.29" fill="#111"/>
<polygon points="636.60,308.15 637.04,309.29 638.26,309.36 637.31,310.13 637.63,311.32 636.60,310.65 635.57,311.32 635.89,310.13 634.94,309.36 636.16,309.29" fill="#111"/>
<text x="37.4" y="222.9" font-size="11.3" fill="#262626" textLength="106" lengthAdjust="spacingAndGlyphs">24 h post-treatment</text>
<text x="275.3" y="222.9" font-size="11.3" fill="#262626" textLength="106" lengthAdjust="spacingAndGlyphs">48 h post-treatment</text>
<text x="499.4" y="229.6" font-size="11.3" fill="#262626" textLength="106" lengthAdjust="spacingAndGlyphs">72 h post-treatment</text>
<rect x="623" y="210.2" width="14" height="7.6" fill="#d9d9d9"/>
<text x="643.2" y="217.5" font-size="9.6" fill="#1a1a1a">G2-M</text>
<rect x="623" y="224.1" width="14" height="7.6" fill="#838383"/>
<text x="643.2" y="231.4" font-size="9.6" fill="#1a1a1a">S</text>
<rect x="623" y="237.9" width="14" height="7.6" fill="#a4a3a8"/>
<text x="643.2" y="245.2" font-size="9.6" fill="#1a1a1a">G0-G1</text>
<rect x="623" y="251.4" width="14" height="7.6" fill="#000000"/>
<text x="643.2" y="258.7" font-size="9.6" fill="#1a1a1a">Sub-G1</text>
<text x="8.3" y="11.2" font-size="14" font-weight="bold">a</text>
<text x="236.3" y="10.8" font-size="14" font-weight="bold">b</text>
<text x="456.2" y="12" font-size="14" font-weight="bold">c</text>
<rect x="633.3" y="2" width="50.2" height="8" fill="#000"/>
<text x="658.4" y="8.2" font-size="5.4" font-weight="bold" fill="#fff" text-anchor="middle">Sample</text>
<rect x="633.3" y="10.0" width="50.2" height="10.3" fill="#d0d0d0"/>
<text x="658.4" y="17.1" font-size="5.5" fill="#000" text-anchor="middle">Control</text>
<rect x="602.6" y="11.2" width="30.1" height="46.4" fill="#fff" stroke="#2a2a2a" stroke-width="0.8"/>
<line x1="602.6" y1="20.6" x2="632.7" y2="20.6" stroke="#333" stroke-width="0.8"/>
<line x1="602.6" y1="30.0" x2="632.7" y2="30.0" stroke="#333" stroke-width="0.8"/>
<line x1="602.6" y1="39.5" x2="632.7" y2="39.5" stroke="#333" stroke-width="0.8"/>
<line x1="602.6" y1="48.9" x2="632.7" y2="48.9" stroke="#333" stroke-width="0.8"/>
<line x1="603" y1="16.0" x2="632.3" y2="16.0" stroke="#ff2020" stroke-width="2.2"/>
<rect x="633.3" y="20.3" width="50.2" height="9.7" fill="#e8e8e8"/>
<text x="658.4" y="27.0" font-size="5.5" fill="#000" text-anchor="middle">0.5 µM</text>
<line x1="603" y1="25.4" x2="632.3" y2="25.4" stroke="#00c4f4" stroke-width="2.2"/>
<rect x="633.3" y="30.0" width="50.2" height="9.6" fill="#d0d0d0"/>
<text x="658.4" y="36.7" font-size="5.5" fill="#000" text-anchor="middle">0.9 µM</text>
<line x1="603" y1="34.7" x2="632.3" y2="34.7" stroke="#ff9a33" stroke-width="2.2"/>
<rect x="633.3" y="39.6" width="50.2" height="9.5" fill="#e8e8e8"/>
<text x="658.4" y="46.2" font-size="5.5" fill="#000" text-anchor="middle">1.8 µM</text>
<line x1="603" y1="44.1" x2="632.3" y2="44.1" stroke="#44e044" stroke-width="2.2"/>
<rect x="633.3" y="49.1" width="50.2" height="8.7" fill="#d0d0d0"/>
<text x="658.4" y="55.4" font-size="5.5" fill="#000" text-anchor="middle">3.6 µM</text>
<line x1="603" y1="52.9" x2="632.3" y2="52.9" stroke="#245c10" stroke-width="2.2"/>
</svg>
</body></html>
